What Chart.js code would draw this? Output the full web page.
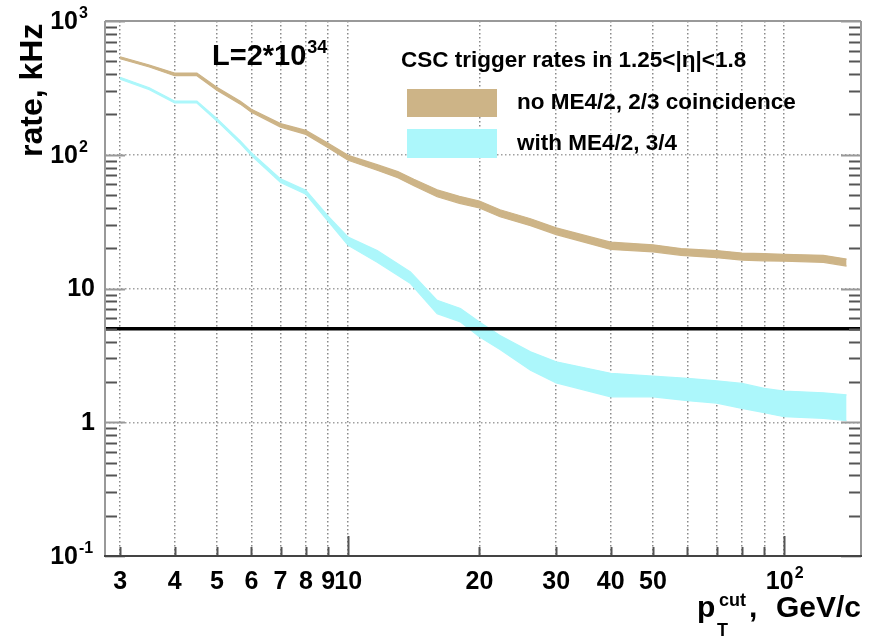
<!DOCTYPE html>
<html>
<head>
<meta charset="utf-8">
<script src="https://cdn.jsdelivr.net/npm/chart.js@4/dist/chart.umd.min.js"></script>
<style>
  html, body { margin: 0; padding: 0; background: #fff; }
  canvas { display: block; }
</style>
</head>
<body>
<canvas id="rate-chart" width="874" height="637"></canvas>
<script>
// pT cut values (GeV/c) and rate band edges (kHz)
const brownPt = [3, 3.5, 4, 4.5, 5, 5.66, 6, 7, 8, 9, 10, 11.7, 13, 14.15, 16, 18, 20, 22.3, 26.2, 30, 40, 50, 58, 70, 80, 90, 100, 123, 139]
const brownUpper = [540, 469, 408, 408, 320, 251, 219, 171, 152, 122, 99, 84, 74.8, 65.5, 54.7, 48.9, 45.1, 38.8, 33.2, 28.4, 22.2, 21.2, 19.9, 19.2, 18.4, 18.2, 18.0, 17.7, 16.6]
const brownLower = [522, 453, 390, 390, 304, 239, 208, 161, 142, 113, 91, 76.3, 67.4, 58.7, 48.5, 43.3, 40.0, 34.4, 29.5, 25.3, 19.6, 18.8, 17.7, 17.0, 16.3, 16.1, 16.0, 15.7, 14.7]

const cyanPt = [3, 3.5, 4, 4.5, 5, 5.66, 6, 7, 8, 9, 10, 11.66, 13.9, 16, 18.1, 20, 22.3, 26.2, 30, 40, 50, 60, 70, 80, 90, 100, 123, 139]
const cyanUpper = [380, 317, 252, 252, 187, 127, 103.5, 66, 54.2, 34.7, 24.2, 19.2, 13.3, 8.16, 7.08, 5.62, 4.45, 3.36, 2.83, 2.32, 2.21, 2.13, 2.04, 1.95, 1.79, 1.71, 1.66, 1.60]
const cyanLower = [367, 307, 244, 244, 179, 121, 98.5, 62, 50.6, 31.8, 21.0, 15.7, 10.9, 6.49, 5.62, 4.35, 3.5, 2.45, 1.97, 1.55, 1.55, 1.45, 1.39, 1.27, 1.18, 1.10, 1.07, 1.03]

const thresholdRate = 5

const xMin = 2.77
const xMax = 150
const yMin = 0.1
const yMax = 1000

const xGridValues = [3, 4, 5, 6, 7, 8, 9, 10, 20, 30, 40, 50, 60, 70, 80, 90, 100]
const xTickValues = [3, 4, 5, 6, 7, 8, 9, 10, 20, 30, 40, 50, 100]
const xTickLabels = ['3', '4', '5', '6', '7', '8', '9', '10', '20', '30', '40', '50', '10^2']
const yTickValues = [0.1, 1, 10, 100, 1000]
const yTickLabels = ['10^-1', '1', '10', '10^2', '10^3']

const seriesLabels = ['no ME4/2, 2/3 coincidence', 'with ME4/2, 3/4']
const legendTitle = 'CSC trigger rates in 1.25<|\u03b7|<1.8'
const lumiText = ['L=2*10', '34']

const TAN = 'rgb(205,180,135)'
const CYAN = 'rgb(172,247,251)'
const FONT = '"Liberation Sans", Arial, Helvetica, sans-serif'

initChart()

function initChart() {
  const ctx = document.getElementById('rate-chart')

  const toPoints = (xs, ys) => xs.map((x, i) => ({ x, y: ys[i] }))

  const band = (data, color, fill) => ({
    data,
    fill,
    backgroundColor: color,
    borderColor: color,
    borderWidth: 1.2,
    pointRadius: 0,
    tension: 0,
  })

  new Chart(ctx, {
    type: 'line',
    data: {
      datasets: [
        {
          data: [{ x: xMin, y: thresholdRate }, { x: xMax, y: thresholdRate }],
          borderColor: '#000',
          borderWidth: 3.5,
          pointRadius: 0,
          fill: false,
        },
        band(toPoints(brownPt, brownUpper), TAN, '+1'),
        band(toPoints(brownPt, brownLower), TAN, false),
        band(toPoints(cyanPt, cyanUpper), CYAN, '+1'),
        band(toPoints(cyanPt, cyanLower), CYAN, false),
      ],
    },
    options: {
      responsive: false,
      devicePixelRatio: 1,
      animation: false,
      layout: { padding: { left: 105, top: 21, right: 13, bottom: 81 } },
      plugins: { legend: { display: false }, tooltip: { enabled: false } },
      scales: {
        x: {
          type: 'logarithmic',
          min: xMin,
          max: xMax,
          afterBuildTicks: (scale) => {
            scale.ticks = xGridValues.map((value) => ({ value }))
          },
          ticks: { display: false },
          grid: { drawTicks: false, color: '#8a8a8a', lineWidth: 1.5 },
          border: { display: false, dash: [1.5, 2.5] },
        },
        y: {
          type: 'logarithmic',
          min: yMin,
          max: yMax,
          afterBuildTicks: (scale) => {
            scale.ticks = yTickValues.map((value) => ({ value }))
          },
          ticks: { display: false },
          grid: { drawTicks: false, color: '#a0a0a0', lineWidth: 1.5 },
          border: { display: false, dash: [1.5, 2.5] },
        },
      },
    },
    plugins: [rootFramePlugin()],
  })
}

/**
 * Draws the ROOT-style frame, ticks, labels, legend and titles
 */
function rootFramePlugin() {
  return {
    id: 'rootFrame',
    afterDraw(chart) {
      const c = chart.ctx
      const { left, right, top, bottom } = chart.chartArea
      const xs = chart.scales.x
      const ys = chart.scales.y

      c.save()

      // minor / major ticks on the y axis (left and right)
      c.strokeStyle = '#555'
      c.lineWidth = 2
      yTickValues.slice(0, -1).forEach((decade) => {
        for (let k = 2; k <= 9; k++) {
          const py = Math.round(ys.getPixelForValue(decade * k)) + 0.5
          line(c, left, py, left + 12, py)
          line(c, right, py, right - 12, py)
        }
      })
      c.strokeStyle = '#999'
      yTickValues.forEach((v) => {
        const py = Math.round(ys.getPixelForValue(v)) + 0.5
        line(c, left, py, left + 20, py)
        line(c, right, py, right - 20, py)
      })

      // ticks on the x axis
      c.strokeStyle = '#555'
      xGridValues.forEach((v) => {
        const px = Math.round(xs.getPixelForValue(v)) + 0.5
        const len = v === 10 || v === 100 ? 20 : 9
        line(c, px, bottom, px, bottom - len)
      })

      // frame
      c.lineWidth = 2
      c.strokeStyle = '#999'
      line(c, left, bottom, left, top)
      line(c, left, top, right, top)
      line(c, right, top, right, bottom)
      c.strokeStyle = '#444'
      line(c, left - 1, bottom, right + 1, bottom)

      c.fillStyle = '#000'

      // y tick labels
      c.textBaseline = 'middle'
      yTickValues.forEach((v, i) => {
        const py = ys.getPixelForValue(v) + 1
        const [base, exp] = yTickLabels[i].split('^')
        c.font = `bold 25px ${FONT}`
        if (exp) {
          c.textAlign = 'right'
          c.fillText(base, 78, py)
          c.font = `bold 16px ${FONT}`
          c.textAlign = 'left'
          c.fillText(exp, 79, py - 8)
        } else {
          c.textAlign = 'right'
          c.fillText(base, 95, py)
        }
      })

      // x tick labels
      xTickValues.forEach((v, i) => {
        const px = xs.getPixelForValue(v)
        const [base, exp] = xTickLabels[i].split('^')
        c.font = `bold 25px ${FONT}`
        if (exp) {
          const wb = c.measureText(base).width
          c.font = `bold 16px ${FONT}`
          const we = c.measureText(exp).width
          const x0 = px - (wb + we) / 2
          c.textAlign = 'left'
          c.fillText(exp, x0 + wb + 1, 574)
          c.font = `bold 25px ${FONT}`
          c.fillText(base, x0, 582)
        } else {
          c.textAlign = 'center'
          c.fillText(base, px, 582)
        }
      })

      // y axis title
      c.save()
      c.translate(42, 157)
      c.rotate(-Math.PI / 2)
      c.textAlign = 'left'
      c.textBaseline = 'alphabetic'
      c.font = `bold 32px ${FONT}`
      c.fillText('rate, kHz', 0, 0)
      c.restore()

      // x axis title
      c.textBaseline = 'alphabetic'
      c.textAlign = 'left'
      c.font = `bold 30px ${FONT}`
      c.fillText('p', 697, 617)
      c.font = `bold 18px ${FONT}`
      c.fillText('cut', 719, 606)
      c.fillText('T', 717, 636)
      c.font = `bold 30px ${FONT}`
      c.fillText(',', 749, 617)
      c.textAlign = 'right'
      c.fillText('GeV/c', 861, 617)

      // luminosity label
      c.textAlign = 'left'
      c.font = `bold 29px ${FONT}`
      c.fillText(lumiText[0], 212, 65)
      const wl = c.measureText(lumiText[0]).width
      c.font = `bold 18px ${FONT}`
      c.fillText(lumiText[1], 212 + wl + 1, 53)

      // legend
      c.textBaseline = 'middle'
      c.font = `bold 22.5px ${FONT}`
      c.fillText(legendTitle, 401, 61)
      c.fillStyle = TAN
      c.fillRect(407, 89, 90, 28)
      c.fillStyle = CYAN
      c.fillRect(407, 129, 90, 29)
      c.fillStyle = '#000'
      c.font = `bold 22.5px ${FONT}`
      c.fillText(seriesLabels[0], 517, 103)
      c.fillText(seriesLabels[1], 517, 144)

      c.restore()
    },
  }
}

/**
 * Strokes one straight segment
 */
function line(c, x1, y1, x2, y2) {
  c.beginPath()
  c.moveTo(x1, y1)
  c.lineTo(x2, y2)
  c.stroke()
}
</script>
</body>
</html>
